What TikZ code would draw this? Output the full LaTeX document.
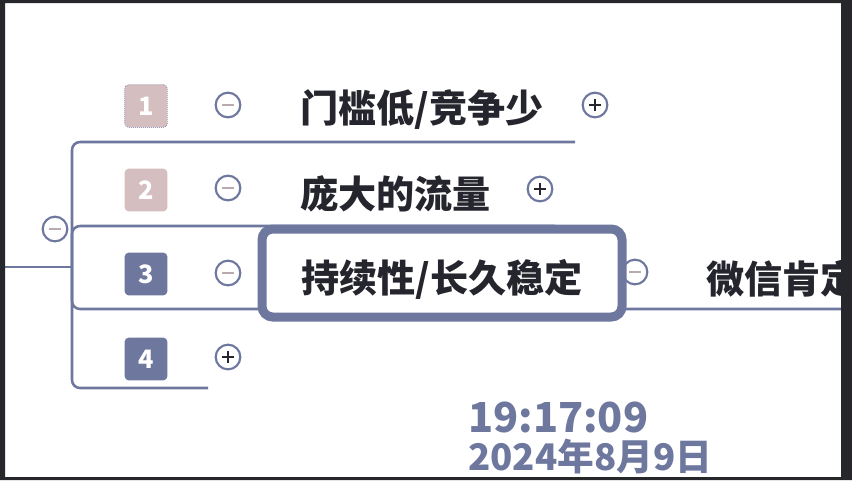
\documentclass[tikz,border=0pt]{standalone}
\usepackage{fontspec}
\newfontfamily\cjk{Noto Sans CJK SC}
\definecolor{slate}{HTML}{6E789F}
\definecolor{rose}{HTML}{D5BEBF}
\definecolor{ink}{HTML}{25252D}
\definecolor{framecol}{HTML}{26272B}
\definecolor{minuscol}{HTML}{B9AAB0}
\tikzset{
  branch/.style={draw=slate, line width=1.9pt, rounded corners=6pt},
  numbox/.style={rounded corners=3pt, minimum size=32pt, inner sep=0pt, text=white,
    font=\cjk\bfseries\fontsize{19}{19}\selectfont},
  toggle/.style={circle, draw=slate, fill=white, line width=1.6pt, minimum size=18.5pt, inner sep=0pt},
  minusbtn/.style={toggle, path picture={\draw[minuscol, line width=1.3pt]
    (path picture bounding box.center) ++(-4.5pt,0) -- ++(9pt,0);}},
  plusbtn/.style={toggle, path picture={\draw[ink, line width=1.3pt]
    (path picture bounding box.center) ++(-4.5pt,0) -- ++(9pt,0)
    (path picture bounding box.center) ++(0,-4.5pt) -- ++(0,9pt);}},
  topic/.style={anchor=west, inner sep=0pt, text=ink, font=\cjk\bfseries\fontsize{28.6}{28.6}\selectfont},
  stamp/.style={anchor=west, inner sep=0pt, text=slate, font=\cjk\bfseries},
}
\begin{document}
\begin{tikzpicture}[x=0.75pt,y=0.75pt,yscale=-1,xscale=1]
\useasboundingbox (0,0) rectangle (852,480);
\fill[white] (0,0) rectangle (852,480);

% hub and branch ends
\coordinate (root) at (5,267);
\coordinate (hub) at (72,267);
\coordinate (u1) at (575,142);
\coordinate (u2) at (555,226);
\coordinate (u3) at (852,309);
\coordinate (u4) at (208,388);

% Branch lines
\draw[branch] (root) -- (hub);
\foreach \u in {u1,u2,u3,u4} \draw[branch] (hub) |- (\u);

% Toggles
\node[minusbtn] (mroot) at (55,229) {};
\node[minusbtn] (m1) at (228,105) {};
\node[minusbtn] (m2) at (228,188) {};
\node[minusbtn] (m3) at (228,273) {};
\node[plusbtn] (p4) at (228,357) {};
\node[plusbtn] (p1) at (595,105) {};
\node[plusbtn] (p2) at (540,189) {};
\node[minusbtn] (m3b) at (635,272) {};

% Selected topic frame
\draw[slate, line width=6.75pt, fill=white, rounded corners=8pt] (262,229) rectangle (622,317);

% Number boxes
\node[numbox, fill=rose, draw=slate, line width=0.5pt, densely dotted] (n1) at (146,106) {1};
\node[numbox, fill=rose] (n2) at (146,190) {2};
\node[numbox, fill=slate] (n3) at (146,274) {3};
\node[numbox, fill=slate] (n4) at (146,359) {4};

% Text Node
\node[topic] (t1) at (300,110) {门槛低/竞争少};
\node[topic] (t2) at (300,194) {庞大的流量};
\node[topic] (t3) at (301,279) {持续性/长久稳定};
\node[topic] (t5) at (706,279) {微信肯定};

% Time stamp
\node[stamp, font=\cjk\bfseries\fontsize{31}{31}\selectfont] (clock) at (468,417) {19:17:09};
\node[stamp, font=\cjk\bfseries\fontsize{27.5}{27.5}\selectfont] (date) at (468,456) {2024年8月9日};

% window frame
\fill[framecol, even odd rule] (0,0) rectangle (852,480) (5,3) rectangle (841,477);
\end{tikzpicture}
\end{document}
